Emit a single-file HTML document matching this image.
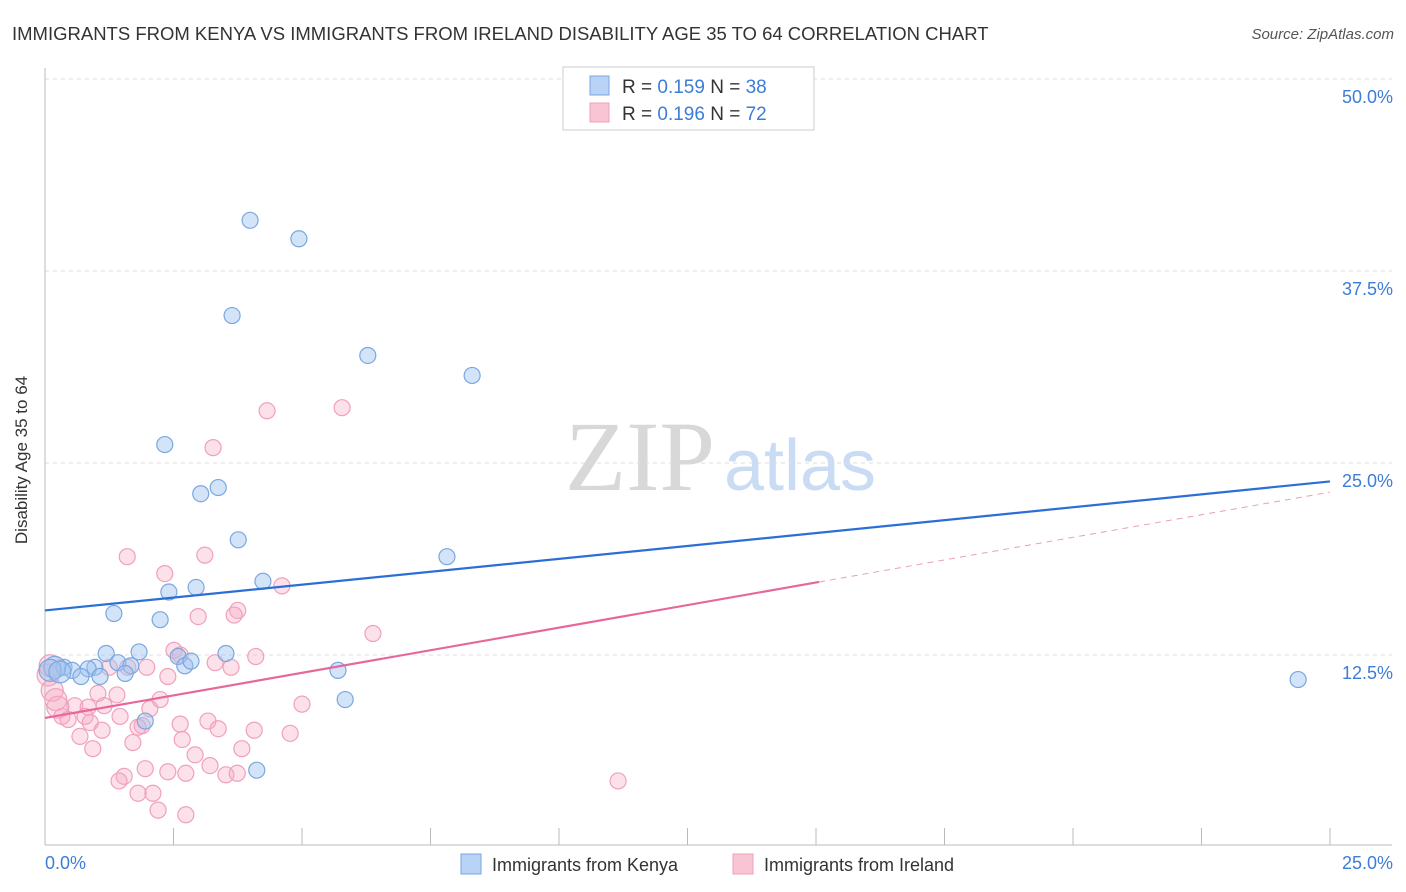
<!DOCTYPE html>
<html><head><meta charset="utf-8"><style>
body{margin:0;background:#fff;font-family:"Liberation Sans",sans-serif}
</style></head><body>
<svg id="c" width="1406" height="892" style="display:block">
<text x="12" y="40" font-size="18.5" fill="#333">IMMIGRANTS FROM KENYA VS IMMIGRANTS FROM IRELAND DISABILITY AGE 35 TO 64 CORRELATION CHART</text>
<text x="1394" y="39" font-size="15" fill="#555" font-style="italic" text-anchor="end">Source: ZipAtlas.com</text>
<text x="640" y="490" font-size="100" fill="#d8d8d8" font-family="Liberation Serif" text-anchor="middle">ZIP</text>
<text x="800" y="490" font-size="72" fill="#c9dcf3" text-anchor="middle">atlas</text>
<g id="grid"></g>
<line x1="45" y1="68" x2="45" y2="845" stroke="#bbb"/>
<line x1="45" y1="845" x2="1392" y2="845" stroke="#bbb"/>
<g id="xt"></g>
<text x="22" y="455" font-size="17" fill="#333" text-anchor="middle" transform="rotate(-90 27 455)">Disability Age 35 to 64</text>
<text x="45" y="869" font-size="18" fill="#3d7dd6">0.0%</text>
<text x="1393" y="869" font-size="18" fill="#3d7dd6" text-anchor="end">25.0%</text>
<g id="pts"></g>
<g id="lines"></g>
<g>
<rect x="563" y="67" width="251" height="63" fill="#fff" stroke="#ccc"/>
<rect x="590" y="76" width="19" height="19" fill="#b8d3f5" stroke="#7aa7e0"/>
<rect x="590" y="103" width="19" height="19" fill="#f9c4d4" stroke="#f0a0bb"/>
<text x="622" y="93" font-size="19" fill="#333">R = <tspan fill="#3d7dd6">0.159</tspan>   N = <tspan fill="#3d7dd6">38</tspan></text>
<text x="622" y="120" font-size="19" fill="#333">R = <tspan fill="#3d7dd6">0.196</tspan>   N = <tspan fill="#3d7dd6">72</tspan></text>
</g>
<g>
<rect x="461" y="854" width="20" height="20" fill="#b8d3f5" stroke="#7aa7e0"/>
<text x="492" y="871" font-size="18" fill="#333">Immigrants from Kenya</text>
<rect x="733" y="854" width="20" height="20" fill="#f9c4d4" stroke="#f0a0bb"/>
<text x="764" y="871" font-size="18" fill="#333">Immigrants from Ireland</text>
</g>
</svg>
<script>
const yTicks=[50,37.5,25,12.5];
const yTickLabels=["50.0%","37.5%","25.0%","12.5%"];
const xTicks=[0,2.5,5,7.5,10,12.5,15,17.5,20,22.5,25];
const kenyaX=[3.99,4.94,3.64,6.28,8.31,2.33,3.03,3.37,3.76,7.82,4.24,2.94,2.41,1.34,2.24,1.83,1.19,3.52,2.59,2.72,2.84,1.42,1.67,0.97,0.37,0.19,0.53,0.84,1.56,1.07,0.70,5.70,5.84,24.38,1.95,4.12,0.10,0.29];
const kenyaY=[40.8,39.6,34.6,32.0,30.7,26.2,23.0,23.4,20.0,18.9,17.3,16.9,16.6,15.2,14.8,12.7,12.6,12.6,12.4,11.8,12.1,12.0,11.8,11.7,11.7,11.7,11.5,11.6,11.3,11.1,11.1,11.5,9.6,10.9,8.2,5.0,11.5,11.4];
const irelandX=[4.32,5.78,3.27,1.60,3.11,2.33,4.61,3.75,2.98,3.68,6.38,2.51,4.10,2.63,1.98,3.62,3.31,1.61,1.25,2.39,0.10,0.14,1.03,1.40,2.04,5.00,0.58,0.84,0.25,1.15,1.46,0.78,0.33,0.45,0.88,1.89,2.63,3.17,3.37,4.07,1.81,1.11,0.68,4.77,1.71,2.67,0.93,3.83,2.92,3.21,1.95,1.54,1.44,2.39,2.74,3.52,3.74,2.10,1.81,2.20,2.74,11.15,0.06,0.21,2.24];
const irelandY=[28.4,28.6,26.0,18.9,19.0,17.8,17.0,15.4,15.0,15.1,13.9,12.8,12.4,12.5,11.7,11.7,12.0,11.7,11.7,11.1,11.8,10.2,10.0,9.9,9.0,9.3,9.2,9.1,9.1,9.2,8.5,8.5,8.5,8.3,8.1,7.9,8.0,8.2,7.7,7.6,7.8,7.6,7.2,7.4,6.8,7.0,6.4,6.4,6.0,5.3,5.1,4.6,4.3,4.9,4.8,4.7,4.8,3.5,3.5,2.4,2.1,4.3,11.2,9.6,9.6];
const kenyaTrend=[15.4,23.8];
const irelandTrend=[8.4,23.1];
const irelandSolidEnd=15.06;
const NS="http://www.w3.org/2000/svg";
const X=v=>45+v/25*1285, Y=v=>847-v/50*768;
function mk(p,t,a){const e=document.createElementNS(NS,t);for(const k in a)e.setAttribute(k,a[k]);document.getElementById(p).appendChild(e);return e;}
yTicks.forEach((t,i)=>{
 const l=mk('grid','line',{x1:45,x2:1392,y1:Y(t),y2:Y(t),stroke:'#ddd','stroke-dasharray':'4,4'});
 
 
 const tx=mk('grid','text',{x:1393,y:Y(t)+24,'font-size':18,fill:'#3d7dd6','text-anchor':'end'});
 tx.textContent=yTickLabels[i];
 
 
});
xTicks.forEach(t=>{
 const l=mk('xt','line',{x1:X(t),x2:X(t),y1:828,y2:845,stroke:'#bbb'});
 
 
});
irelandX.forEach((v,i)=>{
 const c=mk('pts','circle',{cx:X(v),cy:Y(irelandY[i]),r:(v<0.3?11:8),fill:'rgba(245,170,195,0.35)',stroke:'#f0a0bb','stroke-width':1.2});
 
 
});
kenyaX.forEach((v,i)=>{
 const c=mk('pts','circle',{cx:X(v),cy:Y(kenyaY[i]),r:(v<0.3?11:8),fill:'rgba(160,196,240,0.45)',stroke:'#7aa7e0','stroke-width':1.2});
 
 
});
const kl=mk('lines','line',{x1:X(0),y1:Y(kenyaTrend[0]),x2:X(25),y2:Y(kenyaTrend[1]),stroke:'#2b6fd6','stroke-width':2.2});


const ir=v=>irelandTrend[0]+(irelandTrend[1]-irelandTrend[0])*v/25;
const il=mk('lines','line',{x1:X(0),y1:Y(ir(0)),x2:X(irelandSolidEnd),y2:Y(ir(irelandSolidEnd)),stroke:'#e8679a','stroke-width':2.2});


const id=mk('lines','line',{x1:X(irelandSolidEnd),y1:Y(ir(irelandSolidEnd)),x2:X(25),y2:Y(ir(25)),stroke:'#e8a0b8','stroke-width':1,'stroke-dasharray':'6,5'});


</script>
</body></html>
